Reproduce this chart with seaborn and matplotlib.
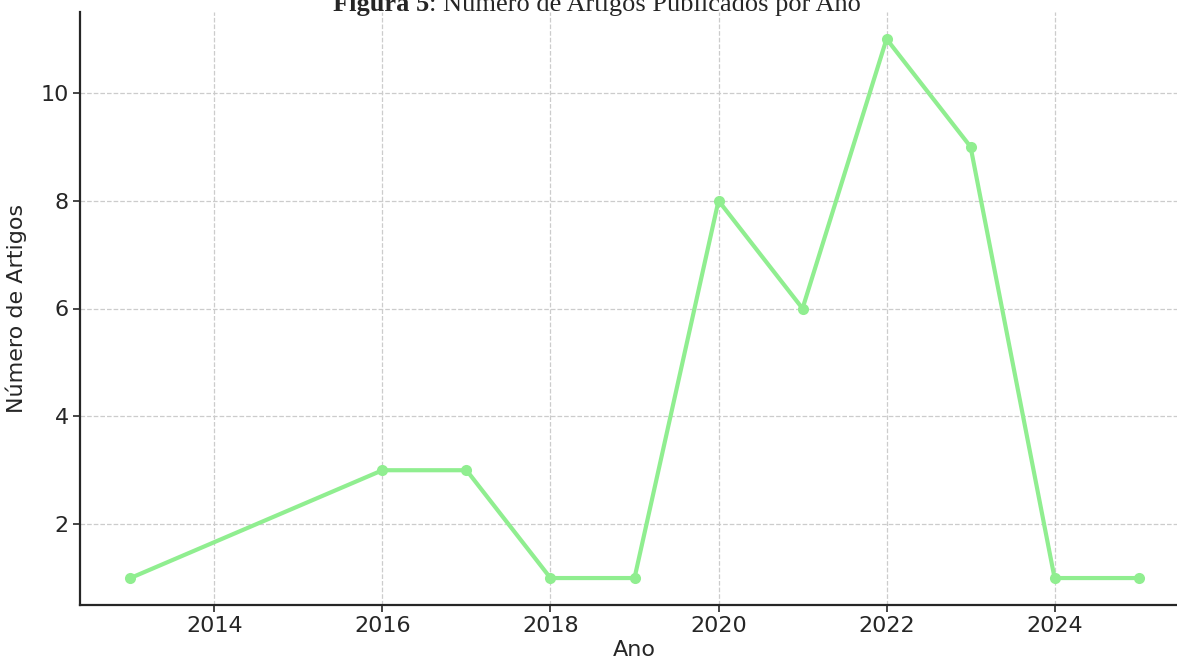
import matplotlib
matplotlib.use("Agg")
import matplotlib.pyplot as plt
import seaborn as sns
import pandas as pd

anos = [2013, 2016, 2017, 2018, 2019, 2020, 2021, 2022, 2023, 2024, 2025]
artigos = [1, 3, 3, 1, 1, 8, 6, 11, 9, 1, 1]
x_ticks = [2014, 2016, 2018, 2020, 2022, 2024]
y_ticks = [2, 4, 6, 8, 10]

df = pd.DataFrame({"Ano": anos, "Número de Artigos": artigos})

sns.set_style("white")
plt.rcParams["font.family"] = ["DejaVu Sans"]

fig = plt.figure(figsize=(11.77, 6.58), dpi=100)
ax = fig.add_axes([80 / 1177, 1 - 605 / 658, (1189 - 80) / 1177, (605 - 12) / 658])

sns.lineplot(data=df, x="Ano", y="Número de Artigos", ax=ax, color="#90EE90",
             marker="o", markersize=8, markeredgewidth=0, linewidth=3)

ax.set_xlim(2012.4, 2025.6)
ax.set_ylim(0.5, 11.5)
ax.set_xticks(x_ticks)
ax.set_yticks(y_ticks)
ax.grid(True, linestyle="--", color="#cccccc", linewidth=0.9)
ax.set_axisbelow(True)
for s in ["top", "right"]:
    ax.spines[s].set_visible(False)
for s in ["left", "bottom"]:
    ax.spines[s].set_color("#262626")
    ax.spines[s].set_linewidth(1.6)
ax.tick_params(axis="both", labelsize=16, colors="#262626", length=5, width=1.2,
               direction="out", left=True, bottom=True, pad=3)
ax.set_xlabel("Ano", fontsize=16, color="#262626", labelpad=3)
ax.set_ylabel("Número de Artigos", fontsize=16, color="#262626", labelpad=10)

# caption (partially clipped at the top, as in the reference)
fig.canvas.draw()
r = fig.canvas.get_renderer()
y_base = 1 - 11 / 658
t1 = fig.text(333 / 1177, y_base, "Figura 5", fontsize=19, fontweight="bold",
              family="Liberation Serif", va="baseline", ha="left")
bb = t1.get_window_extent(renderer=r)
fig.text(bb.x1 / fig.bbox.width, y_base, ": Número de Artigos Publicados por Ano",
         fontsize=19, family="Liberation Serif", va="baseline", ha="left")

fig.savefig("out.png", dpi=100)
